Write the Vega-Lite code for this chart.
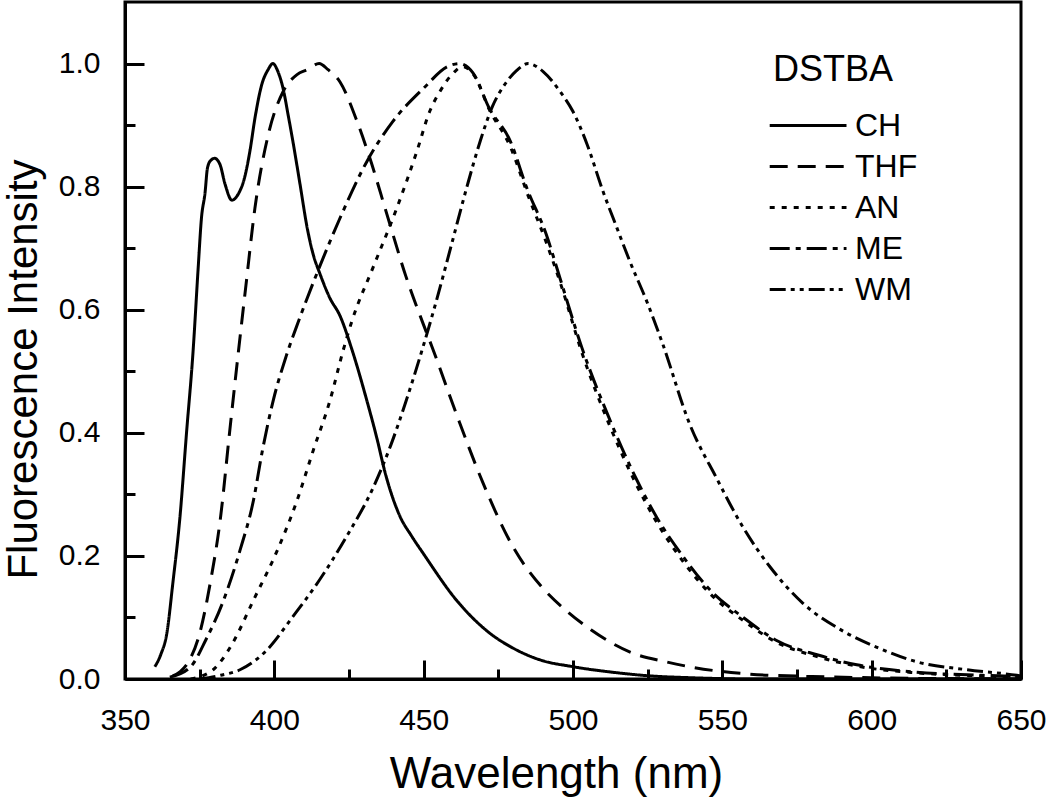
{
  "$schema": "https://vega.github.io/schema/vega-lite/v6.json",
  "autosize": {"type": "none"},
  "width": 896,
  "height": 677,
  "padding": {"left": 125, "top": 2, "right": 29, "bottom": 123},
  "background": "white",
  "config": {
    "font": "Liberation Sans",
    "view": {"stroke": "black", "strokeWidth": 3},
    "axis": {"grid": false, "domainColor": "black", "domainWidth": 3, "tickColor": "black", "tickWidth": 3, "labelColor": "black", "titleColor": "black", "labelFont": "Liberation Sans", "titleFont": "Liberation Sans", "titleFontWeight": "normal"}
  },
  "data": {"values": [
    {"s":"CH","x":360,"y":0.02},{"s":"CH","x":362,"y":0.04},{"s":"CH","x":364,"y":0.074},{"s":"CH","x":366,"y":0.155},{"s":"CH","x":368.4,"y":0.263},{"s":"CH","x":370.6,"y":0.40},{"s":"CH","x":372.8,"y":0.533},{"s":"CH","x":374.5,"y":0.668},{"s":"CH","x":375.6,"y":0.749},{"s":"CH","x":376.8,"y":0.79},{"s":"CH","x":377.6,"y":0.83},{"s":"CH","x":378.6,"y":0.842},{"s":"CH","x":380,"y":0.846},{"s":"CH","x":381.8,"y":0.836},{"s":"CH","x":383.5,"y":0.804},{"s":"CH","x":385.8,"y":0.778},{"s":"CH","x":387.8,"y":0.787},{"s":"CH","x":390,"y":0.814},{"s":"CH","x":391.8,"y":0.857},{"s":"CH","x":393.5,"y":0.911},{"s":"CH","x":395.8,"y":0.966},{"s":"CH","x":397.9,"y":0.99},{"s":"CH","x":399.5,"y":1.0},{"s":"CH","x":401.2,"y":0.987},{"s":"CH","x":403,"y":0.958},{"s":"CH","x":404.6,"y":0.917},{"s":"CH","x":406.2,"y":0.874},{"s":"CH","x":408.6,"y":0.804},{"s":"CH","x":411,"y":0.733},{"s":"CH","x":413,"y":0.69},{"s":"CH","x":415.3,"y":0.658},{"s":"CH","x":418.6,"y":0.619},{"s":"CH","x":422,"y":0.59},{"s":"CH","x":426,"y":0.535},{"s":"CH","x":431,"y":0.452},{"s":"CH","x":434.4,"y":0.39},{"s":"CH","x":437,"y":0.337},{"s":"CH","x":442,"y":0.265},{"s":"CH","x":446,"y":0.232},{"s":"CH","x":450,"y":0.203},{"s":"CH","x":461,"y":0.128},{"s":"CH","x":472,"y":0.075},{"s":"CH","x":480,"y":0.05},{"s":"CH","x":489,"y":0.031},{"s":"CH","x":500,"y":0.02},{"s":"CH","x":515,"y":0.01},{"s":"CH","x":526,"y":0.005},{"s":"CH","x":540,"y":0.002},{"s":"CH","x":560,"y":0.0},{"s":"CH","x":650,"y":0.0},
    {"s":"THF","x":366,"y":0.005},{"s":"THF","x":368.5,"y":0.012},{"s":"THF","x":371,"y":0.026},{"s":"THF","x":375,"y":0.074},{"s":"THF","x":378.5,"y":0.155},{"s":"THF","x":382,"y":0.263},{"s":"THF","x":385,"y":0.40},{"s":"THF","x":388,"y":0.533},{"s":"THF","x":390.5,"y":0.64},{"s":"THF","x":393.5,"y":0.765},{"s":"THF","x":398,"y":0.885},{"s":"THF","x":403,"y":0.955},{"s":"THF","x":407.6,"y":0.982},{"s":"THF","x":411,"y":0.99},{"s":"THF","x":415,"y":1.0},{"s":"THF","x":418,"y":0.99},{"s":"THF","x":422,"y":0.97},{"s":"THF","x":427.7,"y":0.906},{"s":"THF","x":432,"y":0.846},{"s":"THF","x":437.7,"y":0.755},{"s":"THF","x":444,"y":0.655},{"s":"THF","x":450,"y":0.575},{"s":"THF","x":453,"y":0.537},{"s":"THF","x":461,"y":0.43},{"s":"THF","x":470,"y":0.317},{"s":"THF","x":480,"y":0.214},{"s":"THF","x":490,"y":0.147},{"s":"THF","x":498,"y":0.11},{"s":"THF","x":506,"y":0.08},{"s":"THF","x":520,"y":0.042},{"s":"THF","x":531,"y":0.028},{"s":"THF","x":540,"y":0.019},{"s":"THF","x":559,"y":0.008},{"s":"THF","x":580,"y":0.004},{"s":"THF","x":600,"y":0.002},{"s":"THF","x":650,"y":0.0},
    {"s":"AN","x":372,"y":0.0},{"s":"AN","x":379.5,"y":0.015},{"s":"AN","x":386,"y":0.058},{"s":"AN","x":393,"y":0.128},{"s":"AN","x":401,"y":0.209},{"s":"AN","x":407.6,"y":0.29},{"s":"AN","x":413,"y":0.371},{"s":"AN","x":418.6,"y":0.452},{"s":"AN","x":423,"y":0.533},{"s":"AN","x":426,"y":0.582},{"s":"AN","x":433,"y":0.668},{"s":"AN","x":441,"y":0.765},{"s":"AN","x":447.7,"y":0.857},{"s":"AN","x":452,"y":0.922},{"s":"AN","x":455.5,"y":0.955},{"s":"AN","x":460,"y":0.985},{"s":"AN","x":463,"y":0.995},{"s":"AN","x":467,"y":0.98},{"s":"AN","x":472,"y":0.925},{"s":"AN","x":479,"y":0.865},{"s":"AN","x":485,"y":0.785},{"s":"AN","x":491,"y":0.71},{"s":"AN","x":496,"y":0.64},{"s":"AN","x":503,"y":0.53},{"s":"AN","x":512,"y":0.415},{"s":"AN","x":521,"y":0.318},{"s":"AN","x":528,"y":0.255},{"s":"AN","x":537,"y":0.19},{"s":"AN","x":546,"y":0.138},{"s":"AN","x":557,"y":0.095},{"s":"AN","x":568,"y":0.06},{"s":"AN","x":582,"y":0.036},{"s":"AN","x":595,"y":0.021},{"s":"AN","x":615,"y":0.01},{"s":"AN","x":637,"y":0.005},{"s":"AN","x":650,"y":0.003},
    {"s":"ME","x":365,"y":0.003},{"s":"ME","x":372,"y":0.02},{"s":"ME","x":377,"y":0.063},{"s":"ME","x":383,"y":0.128},{"s":"ME","x":388.5,"y":0.209},{"s":"ME","x":393,"y":0.29},{"s":"ME","x":396,"y":0.371},{"s":"ME","x":399.6,"y":0.452},{"s":"ME","x":404,"y":0.525},{"s":"ME","x":408,"y":0.58},{"s":"ME","x":415,"y":0.668},{"s":"ME","x":422,"y":0.749},{"s":"ME","x":431,"y":0.841},{"s":"ME","x":439.7,"y":0.906},{"s":"ME","x":450,"y":0.96},{"s":"ME","x":458,"y":0.995},{"s":"ME","x":462,"y":1.0},{"s":"ME","x":466.5,"y":0.985},{"s":"ME","x":472,"y":0.927},{"s":"ME","x":479,"y":0.874},{"s":"ME","x":484.6,"y":0.797},{"s":"ME","x":491,"y":0.723},{"s":"ME","x":495.6,"y":0.652},{"s":"ME","x":503,"y":0.538},{"s":"ME","x":512,"y":0.425},{"s":"ME","x":521,"y":0.327},{"s":"ME","x":528,"y":0.263},{"s":"ME","x":537,"y":0.198},{"s":"ME","x":546,"y":0.144},{"s":"ME","x":557,"y":0.1},{"s":"ME","x":568,"y":0.063},{"s":"ME","x":582,"y":0.039},{"s":"ME","x":595,"y":0.023},{"s":"ME","x":615,"y":0.011},{"s":"ME","x":637,"y":0.006},{"s":"ME","x":650,"y":0.004},
    {"s":"WM","x":375,"y":0.0},{"s":"WM","x":382,"y":0.006},{"s":"WM","x":388.5,"y":0.015},{"s":"WM","x":397.5,"y":0.047},{"s":"WM","x":406,"y":0.1},{"s":"WM","x":415,"y":0.16},{"s":"WM","x":424,"y":0.23},{"s":"WM","x":433,"y":0.31},{"s":"WM","x":439,"y":0.38},{"s":"WM","x":444,"y":0.45},{"s":"WM","x":449.5,"y":0.535},{"s":"WM","x":454,"y":0.61},{"s":"WM","x":459,"y":0.70},{"s":"WM","x":464.5,"y":0.80},{"s":"WM","x":469,"y":0.875},{"s":"WM","x":473,"y":0.93},{"s":"WM","x":477,"y":0.965},{"s":"WM","x":481,"y":0.988},{"s":"WM","x":485,"y":1.0},{"s":"WM","x":490,"y":0.987},{"s":"WM","x":495.6,"y":0.955},{"s":"WM","x":500,"y":0.922},{"s":"WM","x":504.7,"y":0.869},{"s":"WM","x":510,"y":0.793},{"s":"WM","x":514.7,"y":0.733},{"s":"WM","x":519,"y":0.679},{"s":"WM","x":525,"y":0.61},{"s":"WM","x":530,"y":0.545},{"s":"WM","x":539,"y":0.415},{"s":"WM","x":548,"y":0.327},{"s":"WM","x":557,"y":0.246},{"s":"WM","x":566,"y":0.182},{"s":"WM","x":577,"y":0.123},{"s":"WM","x":590,"y":0.079},{"s":"WM","x":604,"y":0.047},{"s":"WM","x":615,"y":0.028},{"s":"WM","x":632,"y":0.015},{"s":"WM","x":648.6,"y":0.006},{"s":"WM","x":650,"y":0.005}
  ]},
  "resolve": {"axis": {"x": "independent", "y": "independent"}},
  "layer": [
    {
      "mark": {"type": "line", "opacity": 0},
      "encoding": {
        "x": {
          "field": "x", "type": "quantitative",
          "scale": {"domain": [350, 650], "nice": false, "zero": false},
          "axis": {"orient": "bottom", "title": null, "values": [375,425,475,525,575,625], "labels": false, "domain": false, "tickSize": -10, "ticks": true}
        },
        "y": {
          "field": "y", "type": "quantitative",
          "scale": {"domain": [0, 1.1], "nice": false},
          "axis": {"orient": "left", "title": null, "values": [0.1,0.3,0.5,0.7,0.9], "labels": false, "domain": false, "tickSize": -10, "ticks": true}
        },
        "detail": {"field": "s"}
      }
    },
    {
      "mark": {"type": "line", "color": "black", "strokeWidth": 3, "interpolate": "monotone", "clip": true},
      "encoding": {
        "x": {
          "field": "x", "type": "quantitative",
          "scale": {"domain": [350, 650], "nice": false, "zero": false},
          "axis": {
            "orient": "bottom",
            "title": "Wavelength (nm)",
            "values": [350,400,450,500,550,600,650],
            "tickSize": -19,
            "labelPadding": 45,
            "labelFontSize": 30,
            "labelFlush": false,
            "titleFontSize": 44,
            "titleX": 431,
            "titleY": 108,
            "titleBaseline": "alphabetic",
            "titleAlign": "center",
            "titleAnchor": null
          }
        },
        "y": {
          "field": "y", "type": "quantitative",
          "scale": {"domain": [0, 1.1], "nice": false},
          "axis": {
            "orient": "left",
            "title": "Fluorescence Intensity",
            "values": [0,0.2,0.4,0.6,0.8,1.0],
            "format": ".1f",
            "tickSize": -19,
            "labelPadding": 44,
            "labelFontSize": 30,
            "labelFlush": false,
            "titleFontSize": 42,
            "titleX": -89,
            "titleY": 367,
            "titleAngle": 270,
            "titleBaseline": "alphabetic",
            "titleAlign": "center",
            "titleAnchor": null
          }
        },
        "strokeDash": {
          "field": "s", "type": "nominal",
          "scale": {"domain": ["CH","THF","AN","ME","WM"], "range": [[1,0],[18,10],[5,7],[20,6,5,6],[16,5,4,5,4,5]]},
          "legend": {
            "title": "DSTBA",
            "orient": "none",
            "legendX": 648,
            "legendY": 51,
            "padding": 0,
            "titleFontSize": 36,
            "titleFontWeight": "normal",
            "titleColor": "black",
            "titleFont": "Liberation Sans",
            "titlePadding": 19,
            "labelFontSize": 32,
            "labelColor": "black",
            "labelFont": "Liberation Sans",
            "labelOffset": 47,
            "symbolType": "M-1.3,0H3.5",
            "symbolSize": 1024,
            "symbolStrokeWidth": 3,
            "symbolStrokeColor": "black",
            "symbolFillColor": "transparent",
            "rowPadding": 7
          }
        }
      }
    }
  ]
}
